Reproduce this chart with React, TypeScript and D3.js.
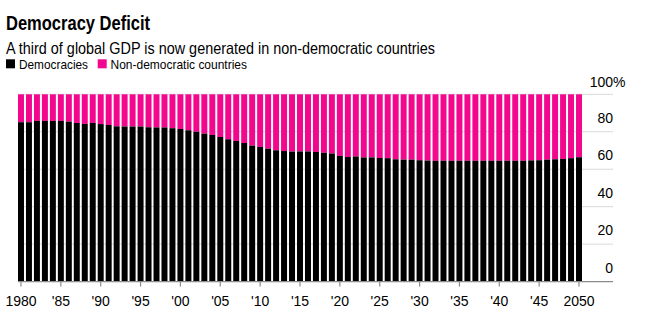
import React from "react";
import * as d3 from "d3";

const years: number[] = d3.range(1980, 2051);
const democracies: number[] = [
  85.1, 85.1, 85.8, 85.8, 85.8, 85.8, 85.4, 84.7, 84.2, 84.7,
  84.1, 83.6, 82.9, 82.8, 82.8, 82.8, 82.4, 82.3, 82.3, 81.9,
  81.5, 80.8, 80.0, 79.0, 78.3, 77.2, 76.0, 75.1, 74.0, 72.6,
  71.9, 71.0, 70.1, 69.7, 69.4, 69.5, 69.5, 69.2, 68.8, 68.4,
  67.1, 66.5, 66.8, 66.3, 66.3, 66.0, 65.9, 65.3, 65.1, 65.1,
  64.8, 64.6, 64.5, 64.5, 64.5, 64.5, 64.5, 64.5, 64.5, 64.5,
  64.5, 64.5, 64.5, 64.5, 64.7, 64.8, 65.1, 65.3, 65.5, 65.9,
  66.4,
];
const nonDemocratic: number[] = democracies.map((d) => 100 - d);
const yTicks: number[] = [0, 20, 40, 60, 80, 100];
const xTickYears: number[] = [1980, 1985, 1990, 1995, 2000, 2005, 2010, 2015, 2020, 2025, 2030, 2035, 2040, 2045, 2050];
const xTickLabels: string[] = ["1980", "'85", "'90", "'95", "'00", "'05", "'10", "'15", "'20", "'25", "'30", "'35", "'40", "'45", "2050"];

const BLACK = "#000000";
const PINK = "#f2078f";
const FONT = "'Liberation Sans', Arial, Helvetica, sans-serif";

export default function App() {
  const W = 645;
  const H = 329;
  const x = d3.scaleBand<number>().domain(years).range([18, 582]).paddingInner(0.25).paddingOuter(0);
  const y = d3.scaleLinear().domain([0, 100]).range([281.6, 94.3]);
  const gridRight = 613;

  return (
    <svg width={W} height={H} style={{ position: "absolute", left: 0, top: 0, background: "#fff" }} fontFamily={FONT}>
      <rect x={0} y={0} width={W} height={H} fill="#fff" />
      <text x={6} y={30} fontSize={21} fontWeight="bold" fill="#000" textLength={144} lengthAdjust="spacingAndGlyphs">
        Democracy Deficit
      </text>
      <text x={6} y={53.5} fontSize={16.5} fill="#000" textLength={429} lengthAdjust="spacingAndGlyphs">
        A third of global GDP is now generated in non-democratic countries
      </text>
      <rect x={6} y={59.3} width={9} height={9} fill={BLACK} />
      <text x={19} y={68.5} fontSize={12.8} fill="#000" textLength={69} lengthAdjust="spacingAndGlyphs">
        Democracies
      </text>
      <rect x={97.7} y={59.3} width={9} height={9} fill={PINK} />
      <text x={110.5} y={68.5} fontSize={12.8} fill="#000" textLength={136.5} lengthAdjust="spacingAndGlyphs">
        Non-democratic countries
      </text>

      {yTicks.filter((t) => t > 0).map((t) => (
        <line key={"g" + t} x1={18} x2={gridRight} y1={y(t)} y2={y(t)} stroke="#d9d9d9" strokeWidth={1} />
      ))}

      {years.map((yr, i) => (
        <g key={yr}>
          <rect x={x(yr)} y={y(100)} width={x.bandwidth()} height={y(0) - y(nonDemocratic[i])} fill={PINK} />
          <rect x={x(yr)} y={y(democracies[i])} width={x.bandwidth()} height={y(0) - y(democracies[i])} fill={BLACK} />
        </g>
      ))}

      <line x1={18} x2={gridRight} y1={y(0)} y2={y(0)} stroke="#8c8c8c" strokeWidth={1.2} />
      {xTickYears.map((yr, i) => {
        const cx = (x(yr) as number) + x.bandwidth() / 2;
        return (
          <g key={"xt" + yr}>
            <line x1={cx} x2={cx} y1={y(0)} y2={y(0) + 5} stroke="#8c8c8c" strokeWidth={1.2} />
            <text x={cx} y={305.5} fontSize={14} textAnchor="middle" fill="#000">
              {xTickLabels[i]}
            </text>
          </g>
        );
      })}

      {yTicks.map((t) => (
        <g key={"yl" + t}>
          <text x={gridRight} y={y(t) - (t === 100 ? 7 : 9)} fontSize={14} textAnchor="end" fill="#000">
            {t}
          </text>
          {t === 100 && (
            <text x={gridRight} y={y(t) - 7} fontSize={14} textAnchor="start" fill="#000">
              %
            </text>
          )}
        </g>
      ))}
    </svg>
  );
}
